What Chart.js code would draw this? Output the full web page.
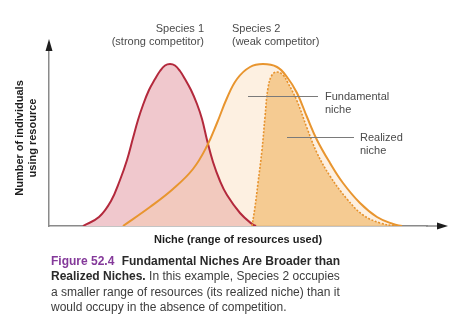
<!DOCTYPE html>
<html>
<head>
<meta charset="utf-8">
<script src="https://cdn.jsdelivr.net/npm/chart.js@4/dist/chart.umd.min.js"></script>
<style>
  html, body { margin: 0; padding: 0; background: #fff; }
  #wrap { position: relative; width: 474px; height: 329px; overflow: hidden; }
  #chart { position: absolute; left: 0; top: 0; }
  .caption {
    position: absolute; left: 51px; top: 254px;
    font: 12px 'Liberation Sans', Arial, sans-serif;
    line-height: 15.3px; color: #3c3c3c; white-space: nowrap;
  }
  .caption b { color: #2a2a2a; }
  .caption .fig { color: #84399a; margin-right: 4px; }
</style>
</head>
<body>
<div id="wrap">
  <canvas id="chart" width="474" height="329"></canvas>
  <div class="caption">
    <b class="fig">Figure 52.4</b> <b>Fundamental Niches Are Broader than</b><br>
    <b>Realized Niches.</b> In this example, Species 2 occupies<br>
    a smaller range of resources (its realized niche) than it<br>
    would occupy in the absence of competition.
  </div>
</div>
<script>
// Resource axis position (x) and number of individuals (y) for each curve
const speciesOneX = [34, 50, 62, 71, 78, 84, 89, 94, 100, 106, 111, 116, 121, 126, 131, 136, 142, 148, 153, 158, 164, 171, 178, 191, 203, 207];
const speciesOneY = [0, 9, 25, 46, 66, 88, 106, 121, 136, 147, 155, 160.5, 162, 160.5, 155, 147, 136, 122, 107, 86, 64, 45, 31, 13, 2, 0];

const fundamentalX = [74, 101, 124, 144, 158, 168, 178, 188, 201, 214, 228, 238, 248, 258, 268, 281, 294, 311, 328, 344, 353];
const fundamentalY = [0, 19, 37, 57, 80, 103, 128, 147, 159, 162, 159, 149, 133, 109, 86, 63, 43, 23, 9, 2, 0];

const realizedX = [203, 206, 209, 213, 216, 219, 223, 228, 234, 239, 248, 258, 268, 281, 298, 314, 331, 346];
const realizedY = [0, 19, 43, 76, 109, 138, 151, 154, 151, 143, 125, 98, 73, 50, 27, 11, 3, 0];

const xRange = [0, 378];
const yRange = [0, 176];

const xTitle = 'Niche (range of resources used)';
const yTitle = ['Number of individuals', 'using resource'];

const toPoints = (xs, ys) => xs.map((x, i) => ({ x, y: ys[i] }));

// Labels and leader lines, placed in data coordinates
const notes = [
  { lines: ['Species 1', '(strong competitor)'], x: 155, y: 197, align: 'right' },
  { lines: ['Species 2', '(weak competitor)'], x: 183, y: 197, align: 'left' },
  { lines: ['Fundamental', 'niche'], x: 276, y: 129, align: 'left', lead: [199, 269, 130] },
  { lines: ['Realized', 'niche'], x: 311, y: 88, align: 'left', lead: [238, 305, 89] }
];

const FONT = "'Liberation Sans', Arial, sans-serif";
Chart.defaults.font.family = FONT;

const decorations = {
  id: 'decorations',
  afterDraw(chart) {
    const { ctx, chartArea: a, scales: { x, y } } = chart;
    ctx.save();
    // axis extensions with arrowheads
    ctx.strokeStyle = '#8a8a8a';
    ctx.lineWidth = 1.5;
    ctx.beginPath();
    ctx.moveTo(a.right - 1, a.bottom);
    ctx.lineTo(a.right + 13, a.bottom);
    ctx.stroke();
    ctx.fillStyle = '#1e1e1e';
    ctx.beginPath();
    ctx.moveTo(a.right + 21, a.bottom);
    ctx.lineTo(a.right + 10, a.bottom - 3.5);
    ctx.lineTo(a.right + 10, a.bottom + 3.5);
    ctx.closePath();
    ctx.fill();
    ctx.beginPath();
    ctx.moveTo(a.left, a.top - 11);
    ctx.lineTo(a.left - 3.5, a.top + 1);
    ctx.lineTo(a.left + 3.5, a.top + 1);
    ctx.closePath();
    ctx.fill();

    // annotations
    ctx.font = '11px ' + FONT;
    ctx.textBaseline = 'middle';
    ctx.fillStyle = '#4a4a4a';
    notes.forEach(n => {
      const px = x.getPixelForValue(n.x);
      const py = y.getPixelForValue(n.y);
      ctx.textAlign = n.align;
      n.lines.forEach((t, i) => ctx.fillText(t, px, py + i * 13));
      if (n.lead) {
        const ly = Math.round(y.getPixelForValue(n.lead[2])) + 0.5;
        ctx.strokeStyle = '#7a7a7a';
        ctx.lineWidth = 1;
        ctx.beginPath();
        ctx.moveTo(x.getPixelForValue(n.lead[0]), ly);
        ctx.lineTo(x.getPixelForValue(n.lead[1]), ly);
        ctx.stroke();
      }
    });
    ctx.restore();
  }
};

new Chart(document.getElementById('chart'), {
  type: 'line',
  data: {
    datasets: [
      {
        label: 'Realized niche',
        data: toPoints(realizedX, realizedY),
        borderColor: '#e7922c',
        borderWidth: 1.6,
        borderDash: [2, 1.6],
        backgroundColor: 'rgba(244,198,136,0.88)',
        fill: 'origin'
      },
      {
        label: 'Species 2 (fundamental niche)',
        data: toPoints(fundamentalX, fundamentalY),
        borderColor: '#e8952f',
        borderWidth: 2,
        backgroundColor: 'rgba(248,205,155,0.3)',
        fill: 'origin'
      },
      {
        label: 'Species 1',
        data: toPoints(speciesOneX, speciesOneY),
        borderColor: '#b3293c',
        borderWidth: 2,
        backgroundColor: 'rgb(240,200,205)',
        fill: 'origin'
      }
    ]
  },
  options: {
    responsive: false,
    animation: false,
    layout: { padding: { left: 8, right: 47, top: 50, bottom: 83 } },
    elements: {
      point: { radius: 0, hoverRadius: 0 },
      line: { tension: 0.4, capBezierPoints: true }
    },
    plugins: {
      legend: { display: false },
      tooltip: { enabled: false },
      filler: { drawTime: 'beforeDatasetsDraw' }
    },
    scales: {
      x: {
        type: 'linear',
        min: xRange[0], max: xRange[1],
        z: 1,
        grid: { display: false },
        ticks: { display: false },
        border: { display: true, color: '#8a8a8a', width: 1.5 },
        title: {
          display: true, text: xTitle, color: '#1e1e1e',
          font: { size: 11, weight: 'bold', lineHeight: 13 / 11 },
          padding: { top: 0, bottom: 0 }
        },
        afterFit(s) { s.height = 20; }
      },
      y: {
        type: 'linear',
        min: yRange[0], max: yRange[1],
        z: 1,
        grid: { display: false },
        ticks: { display: false },
        border: { display: true, color: '#8a8a8a', width: 1.5 },
        title: {
          display: true, text: yTitle, color: '#1e1e1e',
          font: { size: 11, weight: 'bold', lineHeight: 13 / 11 },
          padding: { top: 5.5, bottom: 0 }
        },
        afterFit(s) { s.width = 41; }
      }
    }
  },
  plugins: [decorations]
});
</script>
</body>
</html>
